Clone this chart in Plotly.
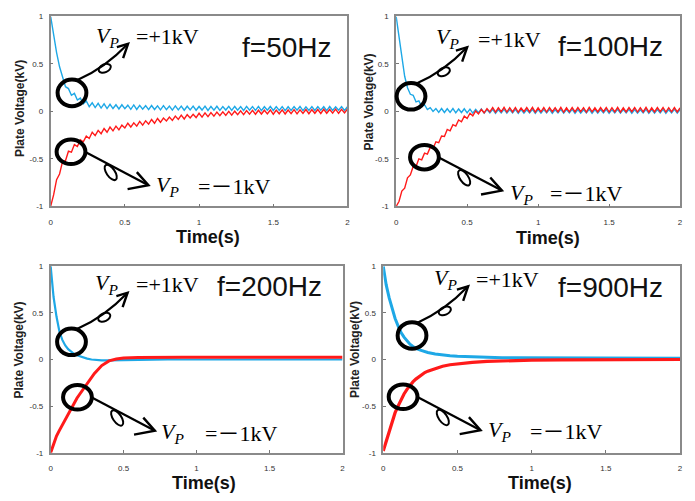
import math
import plotly.graph_objects as go

W, H = 695, 501

# ---------------- data ----------------
t_fine = [round(i * 0.02, 2) for i in range(101)]
t_coarse = [0, 0.02, 0.04, 0.06, 0.08, 0.10, 0.12, 0.14, 0.16, 0.18, 0.20, 0.22, 0.25, 0.28, 0.30,
            0.35, 0.40, 0.45, 0.50, 0.60, 0.70, 0.80, 0.90, 1.00, 1.20, 1.40, 1.60, 1.80, 2.00]

blue_50 = [1.00, 0.80, 0.62, 0.47, 0.37, 0.26, 0.24, 0.17, 0.19, 0.12, 0.14, 0.08, 0.11, 0.05, 0.09, 0.04,
           0.085, 0.035, 0.08, 0.03, 0.075,
           0.03, 0.07, 0.025, 0.07, 0.028, 0.065, 0.022, 0.068, 0.02, 0.064, 0.024, 0.06, 0.018, 0.062,
           0.02, 0.058, 0.016, 0.06, 0.018, 0.056,
           0.014, 0.058, 0.016, 0.055, 0.012, 0.054, 0.015, 0.056, 0.012, 0.052, 0.014, 0.055, 0.01, 0.052,
           0.013, 0.054, 0.01, 0.05, 0.014, 0.053,
           0.01, 0.052, 0.012, 0.05, 0.009, 0.053, 0.012, 0.05, 0.01, 0.052, 0.008, 0.049, 0.012, 0.052,
           0.009, 0.05, 0.011, 0.051, 0.008, 0.049,
           0.01, 0.05, 0.012, 0.052, 0.008, 0.048, 0.011, 0.051, 0.009, 0.05, 0.012, 0.049, 0.008, 0.051,
           0.01, 0.048, 0.012, 0.05, 0.009, 0.05]
red_50 = [-1.00, -0.88, -0.72, -0.66, -0.53, -0.52, -0.42, -0.43, -0.35, -0.37, -0.30, -0.32, -0.26, -0.285,
          -0.22, -0.255, -0.20, -0.235, -0.18, -0.22, -0.165,
          -0.205, -0.155, -0.195, -0.145, -0.175, -0.125, -0.165, -0.12, -0.155, -0.105, -0.145, -0.10,
          -0.135, -0.085, -0.125, -0.075, -0.115, -0.07, -0.10, -0.06,
          -0.095, -0.05, -0.085, -0.04, -0.08, -0.035, -0.07, -0.03, -0.065, -0.02, -0.06, -0.015, -0.055,
          -0.012, -0.05, -0.008, -0.045, -0.004, -0.042, 0.0,
          -0.04, 0.002, -0.035, 0.005, -0.035, 0.008, -0.03, 0.01, -0.03, 0.012, -0.028, 0.012, -0.026,
          0.015, -0.03, 0.014, -0.025, 0.016, -0.027, 0.015,
          -0.024, 0.018, -0.026, 0.016, -0.022, 0.02, -0.025, 0.018, -0.02, 0.02, -0.022, 0.022, -0.02,
          0.02, -0.018, 0.024, -0.02, 0.022, -0.016, 0.025]
blue_100 = [1.00, 0.80, 0.58, 0.37, 0.25, 0.18, 0.17, 0.10, 0.11, 0.05, 0.07, 0.02, 0.04, 0.0, 0.03, -0.01, 0.03,
            -0.012, 0.028, -0.01, 0.03, -0.015, 0.025, -0.012, 0.028, -0.015, 0.024, -0.018, 0.022, -0.015, 0.025,
            -0.018, 0.02, -0.016, 0.022, -0.02, 0.018, -0.017, 0.021, -0.019, 0.019,
            -0.016, 0.022, -0.02, 0.02, -0.018, 0.018, -0.017, 0.021, -0.02, 0.019,
            -0.018, 0.02, -0.016, 0.022, -0.02, 0.018, -0.017, 0.021, -0.019, 0.019,
            -0.016, 0.022, -0.02, 0.02, -0.018, 0.018, -0.017, 0.021, -0.02, 0.019,
            -0.018, 0.02, -0.016, 0.022, -0.02, 0.018, -0.017, 0.021, -0.019, 0.019,
            -0.016, 0.022, -0.02, 0.02, -0.018, 0.018, -0.017, 0.021, -0.02, 0.019,
            -0.018, 0.02, -0.016, 0.022, -0.02, 0.018, -0.017, 0.021, -0.019, 0.02]
red_100 = [-1.00, -0.95, -0.84, -0.81, -0.70, -0.67, -0.58, -0.58, -0.50, -0.51, -0.44, -0.45, -0.38, -0.39,
           -0.32, -0.33, -0.26, -0.265, -0.19, -0.205, -0.14, -0.155, -0.09, -0.11, -0.05, -0.075, -0.02,
           -0.047, 0.005, -0.027, 0.02, -0.015, 0.03,
           -0.005, 0.04, -0.008, 0.038, -0.004, 0.042, -0.007, 0.039, -0.005, 0.041, -0.009, 0.037, -0.004,
           0.04, -0.006, 0.042, -0.008, 0.038, -0.005, 0.04,
           -0.007, 0.041, -0.004, 0.039, -0.006, 0.042, -0.009, 0.038, -0.005, 0.04, -0.006, 0.041, -0.004,
           0.039, -0.008, 0.042, -0.005, 0.038, -0.006, 0.04,
           -0.004, 0.041, -0.007, 0.039, -0.005, 0.042, -0.008, 0.038, -0.006, 0.04, -0.004, 0.041, -0.007,
           0.039, -0.005, 0.042, -0.008, 0.038, -0.006, 0.04,
           -0.004, 0.041, -0.007, 0.039, -0.005, 0.04, -0.006, 0.038]
blue_200 = [1.0, 0.67, 0.46, 0.30, 0.21, 0.15, 0.11, 0.08, 0.06, 0.045, 0.033, 0.022, 0.01, 0.0, -0.005,
            -0.01, -0.01, -0.008, -0.005, 0.0, 0.0, 0.002, 0.0, 0.0, 0.0, 0.0, 0.0, 0.0, 0.0]
red_200 = [-1.0, -0.91, -0.82, -0.76, -0.70, -0.65, -0.59, -0.52, -0.465, -0.415, -0.37, -0.325, -0.255,
           -0.19, -0.15, -0.065, -0.015, 0.005, 0.015, 0.022, 0.025, 0.025, 0.025, 0.025, 0.025, 0.025,
           0.025, 0.025, 0.025]
blue_900 = [1.0, 0.80, 0.66, 0.54, 0.44, 0.36, 0.29, 0.24, 0.20, 0.165, 0.14, 0.12, 0.10, 0.085, 0.075,
            0.06, 0.048, 0.04, 0.034, 0.027, 0.023, 0.02, 0.018, 0.017, 0.015, 0.014, 0.013, 0.012, 0.012]
red_900 = [-0.98, -0.88, -0.76, -0.66, -0.57, -0.50, -0.43, -0.37, -0.32, -0.275, -0.24, -0.21, -0.17,
           -0.14, -0.125, -0.095, -0.072, -0.056, -0.045, -0.03, -0.02, -0.014, -0.01, -0.007, -0.004,
           -0.002, -0.001, 0.0, 0.0]

freq_labels = ["f=50Hz", "f=100Hz", "f=200Hz", "f=900Hz"]
x_ticks = [0, 0.5, 1, 1.5, 2]
x_tick_text = ["0", "0.5", "1", "1.5", "2"]
y_ticks = [-1, -0.5, 0, 0.5, 1]
y_tick_text = ["-1", "-0.5", "0", "0.5", "1"]
x_title = "Time(s)"
y_title = "Plate Voltage(kV)"
vp_plus = "=+1kV"
vp_minus = "=\uff0d1kV"

BLUE = "#1EA8E6"
RED = "#FF1A1A"

panels = [
    dict(t=t_fine, blue=blue_50, red=red_50, bw=1.4, rw=1.4),
    dict(t=t_fine, blue=blue_100, red=red_100, bw=1.4, rw=1.4),
    dict(t=t_coarse, blue=blue_200, red=red_200, bw=2.2, rw=3.0),
    dict(t=t_coarse, blue=blue_900, red=red_900, bw=3.0, rw=3.2),
]

# ---------------- layout geometry (pixels) ----------------
boxes = [(49, 348, 12.7, 206), (397, 683, 12.7, 206), (49, 343, 267, 457), (384, 683, 267, 457)]
up_circ = [(70.5, 90.5), (412, 94), (70, 344), (413, 337.5)]
lo_circ = [(69.5, 150.5), (425.5, 156), (76, 400.5), (404, 400)]
vp_up_pos = [((93, 33.5), (133, 33)), ((435, 34.5), (477, 36)), ((92, 285.5), (133, 285.5)), ((433, 280.5), (475, 280.5))]
vp_lo_pos = [((153, 185.5), (195, 185.5)), ((510, 193), (550, 192.5)), ((158, 436.5), (202, 437.5)), ((488, 435), (530, 435.5))]
f_pos = [(287, 44), (613, 43), (269, 288), (613, 289)]
ytitle_pos = [(18, 106), (370, 100), (17, 352), (355, 352)]
xtitle_pos = [(207, 237), (550, 238), (203, 488), (542, 488)]

fig = go.Figure()
layout = dict(width=W, height=H, margin=dict(l=0, r=0, t=0, b=0), paper_bgcolor="white",
              plot_bgcolor="white", showlegend=False)

for k, (x0, x1, y0, y1) in enumerate(boxes):
    s = "" if k == 0 else str(k + 1)
    p = panels[k]
    fig.add_trace(go.Scatter(x=p["t"], y=p["blue"], xaxis="x" + s, yaxis="y" + s, mode="lines",
                             line=dict(color=BLUE, width=p["bw"]), hoverinfo="skip"))
    fig.add_trace(go.Scatter(x=p["t"], y=p["red"], xaxis="x" + s, yaxis="y" + s, mode="lines",
                             line=dict(color=RED, width=p["rw"]), hoverinfo="skip"))
    common = dict(showgrid=False, zeroline=False, showline=True, mirror=True, linecolor="#8a8a8a",
                  linewidth=1.5, ticks="inside", ticklen=3, tickcolor="#777", tickwidth=1,
                  tickfont=dict(family="Liberation Sans", size=8, color="#333"), fixedrange=True)
    layout["xaxis" + s] = dict(domain=[x0 / W, x1 / W], anchor="y" + s, range=[0, 2],
                               tickvals=x_ticks, ticktext=x_tick_text, ticklabelstandoff=7, **common)
    layout["yaxis" + s] = dict(domain=[1 - y1 / H, 1 - y0 / H], anchor="x" + s, range=[-1, 1],
                               tickvals=y_ticks, ticktext=y_tick_text, ticklabelstandoff=4, **common)

fig.update_layout(**layout)


def P(x, y):
    return x / W, 1 - y / H


def fmt(pt):
    px, py = P(*pt)
    return f"{px:.5f},{py:.5f}"


shapes = []
annos = []


def circle(c, rx, ry, w=4):
    cx, cy = c
    shapes.append(dict(type="circle", xref="paper", yref="paper", x0=(cx - rx) / W, x1=(cx + rx) / W,
                       y0=1 - (cy + ry) / H, y1=1 - (cy - ry) / H, line=dict(color="black", width=w),
                       layer="above"))


def path(d, w):
    shapes.append(dict(type="path", xref="paper", yref="paper", path=d,
                       line=dict(color="black", width=w), layer="above"))


def ellipse(cx, cy, a, b, ang, w):
    kk = 0.5523
    ca, sa = math.cos(math.radians(ang)), math.sin(math.radians(ang))

    def tr(u, v):
        return (cx + a * u * ca - b * v * sa, cy + a * u * sa + b * v * ca)
    segs = [((1, kk), (kk, 1), (0, 1)), ((-kk, 1), (-1, kk), (-1, 0)),
            ((-1, -kk), (-kk, -1), (0, -1)), ((kk, -1), (1, -kk), (1, 0))]
    d = "M " + fmt(tr(1, 0))
    for c1, c2, e in segs:
        d += " C " + fmt(tr(*c1)) + " " + fmt(tr(*c2)) + " " + fmt(tr(*e))
    path(d + " Z", w)


def rel(c, dx, dy):
    return (c[0] + dx, c[1] + dy)


for k in range(4):
    cu = up_circ[k]
    cl = lo_circ[k]
    # upper group
    circle(cu, 14.5, 13.5)
    S, C, T = rel(cu, 5.5, -13), rel(cu, 32.8, -25), rel(cu, 56.5, -50)
    path(f"M {fmt(S)} Q {fmt(C)} {fmt(T)}", 2.2)
    path(f"M {fmt(rel(T, -11.3, 3.4))} L {fmt(T)} L {fmt(rel(T, -5, 14.7))}", 2.4)
    ellipse(cu[0] + 33, cu[1] - 25, 6.5, 4, -25, 2)
    # lower group
    circle(cl, 14.5, 12.5)
    S, T = rel(cl, 14, 0), rel(cl, 78, 34)
    path(f"M {fmt(S)} L {fmt(T)}", 2.2)
    path(f"M {fmt(rel(T, -11.7, -13.3))} L {fmt(T)} L {fmt(rel(T, -21, 4))}", 2.4)
    ellipse(cl[0] + 40, cl[1] + 21, 9, 4.2, 56, 2)

    # texts
    for (vpos, epos), txt in ((vp_up_pos[k], vp_plus), (vp_lo_pos[k], vp_minus)):
        annos.append(dict(text="<i>V</i><sub><i>P</i></sub>", x=P(*vpos)[0], y=P(*vpos)[1],
                          xanchor="left", yanchor="middle", showarrow=False,
                          font=dict(family="Liberation Serif", size=22, color="black")))
        annos.append(dict(text=txt, x=P(*epos)[0], y=P(*epos)[1], xanchor="left", yanchor="middle",
                          showarrow=False,
                          font=dict(family="Liberation Serif, Noto Sans CJK JP", size=22, color="black")))
    fx, fy = P(*f_pos[k])
    annos.append(dict(text=freq_labels[k], x=fx, y=fy, xanchor="center", yanchor="middle", showarrow=False,
                      font=dict(family="Liberation Sans", size=28, color="#111")))
    yx, yy = P(*ytitle_pos[k])
    annos.append(dict(text=f"<b>{y_title}</b>", x=yx, y=yy, xanchor="center", yanchor="middle",
                      textangle=-90, showarrow=False,
                      font=dict(family="Liberation Sans", size=12, color="#222")))
    xx, xy = P(*xtitle_pos[k])
    annos.append(dict(text=f"<b>{x_title}</b>", x=xx, y=xy, xanchor="center", yanchor="middle",
                      showarrow=False,
                      font=dict(family="Liberation Sans", size=18, color="#111")))

for a in annos:
    a["xref"] = "paper"
    a["yref"] = "paper"

fig.update_layout(shapes=shapes, annotations=annos)
fig.write_html("out.html")
